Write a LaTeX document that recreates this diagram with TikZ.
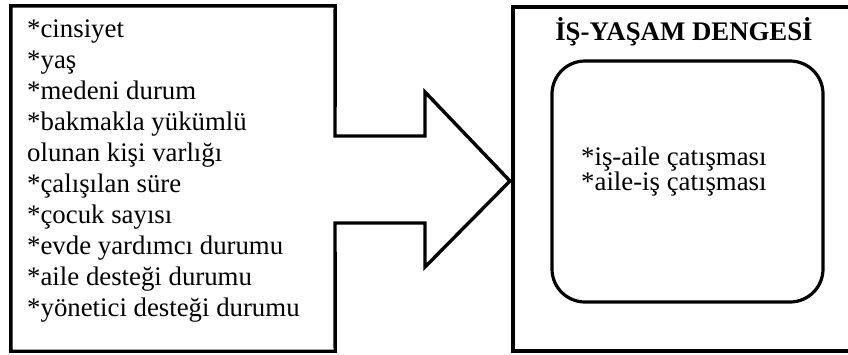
\documentclass[tikz,border=0pt]{standalone}
\usepackage{fontspec}
\setmainfont{Liberation Serif}
\begin{document}
\begin{tikzpicture}[x=1pt,y=-1pt,
  frame/.style={line width=3.4pt, line join=miter},
  lbl/.style={inner sep=0pt, font=\fontsize{26.8}{31}\selectfont},
  ttl/.style={inner sep=0pt, font=\fontsize{26.8}{31}\selectfont\bfseries},
  inner/.style={draw, line width=3.2pt, rounded corners=33pt, inner sep=0pt,
    minimum width=271pt, minimum height=241pt}]
\useasboundingbox (0,0) rectangle (848,354);
% named boxes
\node[inner sep=0pt, minimum width=324pt, minimum height=345pt] (L) at (173,178.5) {};
\coordinate (shaftTop) at (335,136);
\coordinate (shaftBot) at (335,223);
\coordinate (neckTop) at (425,136);
\coordinate (neckBot) at (425,223);
\coordinate (headTop) at (425,92);
\coordinate (headBot) at (425,267);
\coordinate (tip) at (510,181);
% left box merged with block arrow
\draw[frame] (shaftTop) -- (L.north east) -- (L.north west) -- (L.south west)
  -- (L.south east) -- (shaftBot) -- (neckBot) -- (headBot) -- (tip)
  -- (headTop) -- (neckTop) -- cycle;
% right box (cut at picture edge)
\coordinate (Rtr) at (850,7);
\coordinate (Rtl) at (513,7);
\coordinate (Rbl) at (513,351);
\coordinate (Rbr) at (850,351);
\draw[frame] (Rtr) -- (Rtl) -- (Rbl) -- (Rbr);
\node[inner] (I) at (687.5,181.5) {};
% texts
\foreach \txt [count=\i] in {*cinsiyet,*yaş,*medeni durum,*bakmakla yükümlü,
  olunan kişi varlığı,*çalışılan süre,*çocuk sayısı,*evde yardımcı durumu,
  *aile desteği durumu,*yönetici desteği durumu}
  \node[lbl, anchor=base west] (t\i) at (27,{37+31*(\i-1)}) {\txt};
\node[ttl, anchor=base] (title) at (684,40) {İŞ-YAŞAM DENGESİ};
\node[lbl, anchor=base west] (r1) at (581,165) {*iş-aile çatışması};
\node[lbl, anchor=base west] (r2) at (581,190.5) {*aile-iş çatışması};
\end{tikzpicture}
\end{document}
